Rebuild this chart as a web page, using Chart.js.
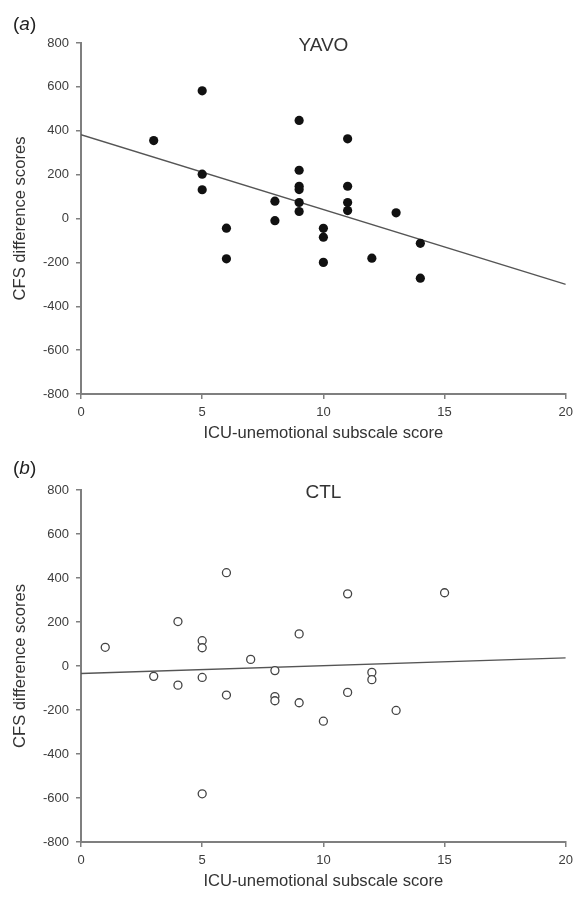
<!DOCTYPE html>
<html>
<head>
<meta charset="utf-8">
<script src="https://cdn.jsdelivr.net/npm/chart.js@4.4.1/dist/chart.umd.min.js"></script>
<style>
  html, body { margin: 0; padding: 0; background: #fff; }
  #wrap { position: relative; width: 579px; height: 898px; }
  canvas { position: absolute; left: 0; }
  #chartA { top: 0; }
  #chartB { top: 450px; }
</style>
</head>
<body>
<div id="wrap">
  <canvas id="chartA" width="579" height="450"></canvas>
  <canvas id="chartB" width="579" height="448"></canvas>
</div>
<script>
// values
const X_TICKS = [0, 5, 10, 15, 20];
const Y_TICKS = [-800, -600, -400, -200, 0, 200, 400, 600, 800];
const X_TITLE = 'ICU-unemotional subscale score';
const Y_TITLE = 'CFS difference scores';

// panel (a) YAVO
const yavoX = [3, 5, 5, 5, 6, 6, 8, 8, 9, 9, 9, 9, 9, 9, 10, 10, 10, 11, 11, 11, 11, 12, 13, 14, 14];
const yavoY = [355, 582, 202, 131, -44, -184, 79, -10, 447, 220, 147, 132, 73, 32, -45, -85, -200, 363, 147, 73, 36, -181, 26, -113, -272];
const yavoFitX = [0, 20];
const yavoFitY = [382, -300];

// panel (b) CTL
const ctlX = [1, 3, 4, 4, 5, 5, 5, 5, 6, 6, 7, 8, 8, 8, 9, 9, 10, 11, 11, 12, 12, 13, 15];
const ctlY = [85, -47, 202, -87, 115, 83, -52, -581, 424, -132, 30, -21, -139, -158, 146, -167, -251, 328, -120, -29, -62, -202, 333];
const ctlFitX = [0, 20];
const ctlFitY = [-34, 37];

const FONT = "'Liberation Sans', Arial, Helvetica, sans-serif";
const AXIS_GREY = '#7f7f7f';

const toPoints = (xs, ys) => xs.map((x, i) => ({ x, y: ys[i] }));

// panel tag "(a)" and group name drawn on top of the plot
const panelLabels = {
	id: 'panelLabels',
	afterDraw(chart, args, opts) {
		const { ctx, chartArea } = chart;
		ctx.save();
		ctx.fillStyle = '#222';
		ctx.textBaseline = 'middle';
		// "(a)" with italic letter
		ctx.textAlign = 'left';
		let x = 13;
		const y = opts.tagY;
		ctx.font = '19px ' + FONT;
		ctx.fillText('(', x, y);
		x += ctx.measureText('(').width;
		ctx.font = 'italic 19px ' + FONT;
		ctx.fillText(opts.tag, x, y);
		x += ctx.measureText(opts.tag).width;
		ctx.font = '19px ' + FONT;
		ctx.fillText(')', x, y);
		// group name
		ctx.fillStyle = '#333';
		ctx.textAlign = 'center';
		ctx.font = '19px ' + FONT;
		ctx.fillText(opts.name, (chartArea.left + chartArea.right) / 2, chartArea.top + 3);
		ctx.restore();
	}
};

function makePanel(canvasId, pts, fitX, fitY, filled, tag, name, padTop, tagY) {
	const ctx = document.getElementById(canvasId).getContext('2d');
	return new Chart(ctx, {
		type: 'scatter',
		data: {
			datasets: [
				{
					type: 'scatter',
					data: pts,
					pointRadius: filled ? 4.6 : 4,
					pointBackgroundColor: filled ? '#111' : '#fff',
					pointBorderColor: filled ? '#111' : '#444',
					pointBorderWidth: filled ? 0 : 1.3,
					order: 1
				},
				{
					type: 'line',
					data: toPoints(fitX, fitY),
					borderColor: '#555',
					borderWidth: 1.3,
					pointRadius: 0,
					fill: false,
					order: 2
				}
			]
		},
		options: {
			responsive: false,
			animation: false,
			layout: { padding: { top: padTop, right: 7, left: 0, bottom: 0 } },
			plugins: {
				legend: { display: false },
				tooltip: { enabled: false },
				panelLabels: { tag, name, tagY }
			},
			scales: {
				x: {
					type: 'linear',
					min: 0,
					max: 20,
					afterBuildTicks: s => { s.ticks = X_TICKS.map(v => ({ value: v })); },
					afterFit: s => { s.height = 56; },
					border: { display: true, color: AXIS_GREY, width: 2 },
					grid: { display: true, drawOnChartArea: false, drawTicks: true, tickLength: 5, color: AXIS_GREY, lineWidth: 1.5 },
					ticks: { color: '#3c3c3c', padding: 6, font: { family: FONT, size: 13 }, maxRotation: 0 },
					title: { display: true, text: X_TITLE, color: '#333', font: { family: FONT, size: 16.6 }, padding: { top: 0, bottom: 7 } }
				},
				y: {
					type: 'linear',
					min: -800,
					max: 800,
					afterBuildTicks: s => { s.ticks = Y_TICKS.map(v => ({ value: v })); },
					afterFit: s => { s.width = 81; },
					border: { display: true, color: AXIS_GREY, width: 2 },
					grid: { display: true, drawOnChartArea: false, drawTicks: true, tickLength: 5, color: AXIS_GREY, lineWidth: 1.5 },
					ticks: { color: '#3c3c3c', padding: 7, font: { family: FONT, size: 13 } },
					title: { display: true, text: Y_TITLE, color: '#333', font: { family: FONT, size: 16.6 }, padding: { top: 10, bottom: 0 } }
				}
			}
		},
		plugins: [panelLabels]
	});
}

makePanel('chartA', toPoints(yavoX, yavoY), yavoFitX, yavoFitY, true, 'a', 'YAVO', 43, 25);
makePanel('chartB', toPoints(ctlX, ctlY), ctlFitX, ctlFitY, false, 'b', 'CTL', 40, 19);
</script>
</body>
</html>
